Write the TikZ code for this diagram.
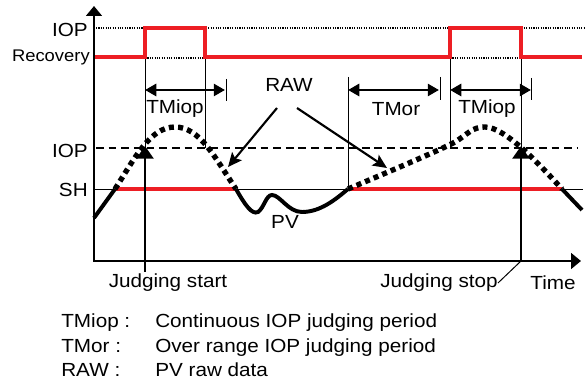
\documentclass[tikz,border=0pt]{standalone}
\usepackage{fontspec}
\setmainfont[FakeStretch=1.09]{Liberation Sans}
\usetikzlibrary{arrows.meta,positioning,calc}
\definecolor{alarmred}{RGB}{237,30,36}
\tikzset{
  redline/.style={alarmred, line width=2.8pt},
  pvline/.style={line width=2.8pt},
  pvdots/.style={line width=3.8pt, dash pattern=on 3.6pt off 3pt},
  thinline/.style={line width=0.7pt},
  fineline/.style={line width=1pt, dash pattern=on 0.8pt off 0.9pt},
  levelline/.style={line width=1.3pt, dash pattern=on 5.5pt off 3.5pt},
  axisline/.style={line width=2pt, {Triangle[length=7pt,width=11pt]}-{Triangle[length=7pt,width=11pt]}},
  dimarrow/.style={line width=2pt, {Triangle[length=8pt,width=8.5pt]}-{Triangle[length=8pt,width=8.5pt]}},
  judgearrow/.style={line width=2pt, -{Triangle[length=9pt,width=12pt]}},
  rawarrow/.style={line width=1.5pt, -{Stealth[length=10pt,width=9pt,inset=2pt]}},
  lbl/.style={font=\fontsize{13.5pt}{15pt}\selectfont, inner sep=0pt},
}

\begin{document}
\begin{tikzpicture}[x=0.025cm, y=-0.025cm]
    \useasboundingbox (0,0) rectangle (585,385);

    % Levels
    \draw[fineline] (96,28) -- (585,28);
    \draw[fineline] (145,58) -- (205,58);
    \draw[fineline] (450,58) -- (521,58);
    \draw[levelline] (96,148) -- (578,148);
    \draw[thinline] (94,189) -- (583,189);

    % Period markers
    \draw[thinline] (145,57) -- (145,148);
    \draw[thinline] (205,57) -- (205,148);
    \draw[thinline] (348,77) -- (348,189);
    \draw[thinline] (450,57) -- (450,148);
    \draw[thinline] (521,57) -- (521,148);
    \draw[thinline] (226,79) -- (226,101);
    \draw[thinline] (440,77) -- (440,100);
    \draw[thinline] (531,78) -- (531,100);

    % Alarm output
    \draw[redline] (94,57) -- (145,57) -- (145,28) -- (205,28) -- (205,57)
        -- (450,57) -- (450,28) -- (521,28) -- (521,57) -- (582,57);
    \draw[redline] (115,189) -- (236,189);
    \draw[redline] (348,189) -- (562,189);

    % PV
    \draw[pvline] (94,218) -- (115,189);
    \draw[pvdots] (115,189) .. controls (135,158) and (150,127) .. (175,127)
        .. controls (200,127) and (215,158) .. (236,189);
    \draw[pvline] (236,189) .. controls (245,205) and (252,215) .. (258,212)
        .. controls (264,208) and (266,195) .. (272,195)
        .. controls (280,195) and (288,212) .. (302,212)
        .. controls (320,212) and (335,200) .. (348,189);
    \draw[pvdots] (348,189) .. controls (400,167) and (440,150) .. (455,142)
        .. controls (468,134) and (472,127) .. (485,127)
        .. controls (505,127) and (540,165) .. (562,189);
    \draw[pvline] (562,189) -- (582,210);

    % Axes
    \draw[axisline] (94,6) -- (94,261) -- (581,261);

    % Labels
    \node[lbl, anchor=east] (ioptop) at (88,30) {IOP};
    \node[lbl, anchor=east, font=\fontsize{12pt}{13pt}\selectfont] (recovery) at (90,57) {Recovery};
    \node[lbl, anchor=east] (iopmid) at (88,151) {IOP};
    \node[lbl, anchor=east] (sh) at (88,190) {SH};
    \node[lbl] (tmiopa) at (175,109) {TMiop};
    \node[lbl] (tmor) at (396,109) {TMor};
    \node[lbl] (tmiopb) at (487,109) {TMiop};
    \node[lbl] (raw) at (289,85) {RAW};
    \node[lbl] (pv) at (285,222) {PV};
    \node[lbl] (jstartlbl) at (168,283) {Judging start};
    \node[lbl] (jstoplbl) at (439,283) {Judging stop};
    \node[lbl] (timelbl) at (553,283) {Time};

    % Periods
    \coordinate (tma) at (145,90);
    \coordinate (tmb) at (225,90);
    \coordinate (tmc) at (348,90);
    \coordinate (tmd) at (439,90);
    \coordinate (tme) at (450,90);
    \coordinate (tmf) at (531,90);
    \draw[dimarrow] (tma) -- (tmb);
    \draw[dimarrow] (tmc) -- (tmd);
    \draw[dimarrow] (tme) -- (tmf);

    % RAW pointers
    \coordinate (rawl) at (277,108);
    \coordinate (rawr) at (297,108);
    \coordinate (rawa) at (228,167);
    \coordinate (rawb) at (387,168);
    \draw[rawarrow] (rawl) -- (rawa);
    \draw[rawarrow] (rawr) -- (rawb);

    % Judging
    \coordinate (jstart) at (145,272);
    \coordinate (jstarttop) at (145,146);
    \coordinate (jstop) at (521,261);
    \coordinate (jstoptop) at (521,146);
    \draw[judgearrow] (jstart) -- (jstarttop);
    \draw[judgearrow] (jstop) -- (jstoptop);
    \draw[thinline] (jstop) -- (jstoplbl.east);

    % Legend
    \node[lbl, anchor=base west] (keya) at (61,328) {TMiop :};
    \node[lbl, anchor=base west] (keyb) at (61,353) {TMor :};
    \node[lbl, anchor=base west] (keyc) at (61,377) {RAW :};
    \node[lbl, anchor=base west] (texta) at (155,328) {Continuous IOP judging period};
    \node[lbl, anchor=base west] (textb) at (155,353) {Over range IOP judging period};
    \node[lbl, anchor=base west] (textc) at (155,377) {PV raw data};
\end{tikzpicture}
\end{document}
